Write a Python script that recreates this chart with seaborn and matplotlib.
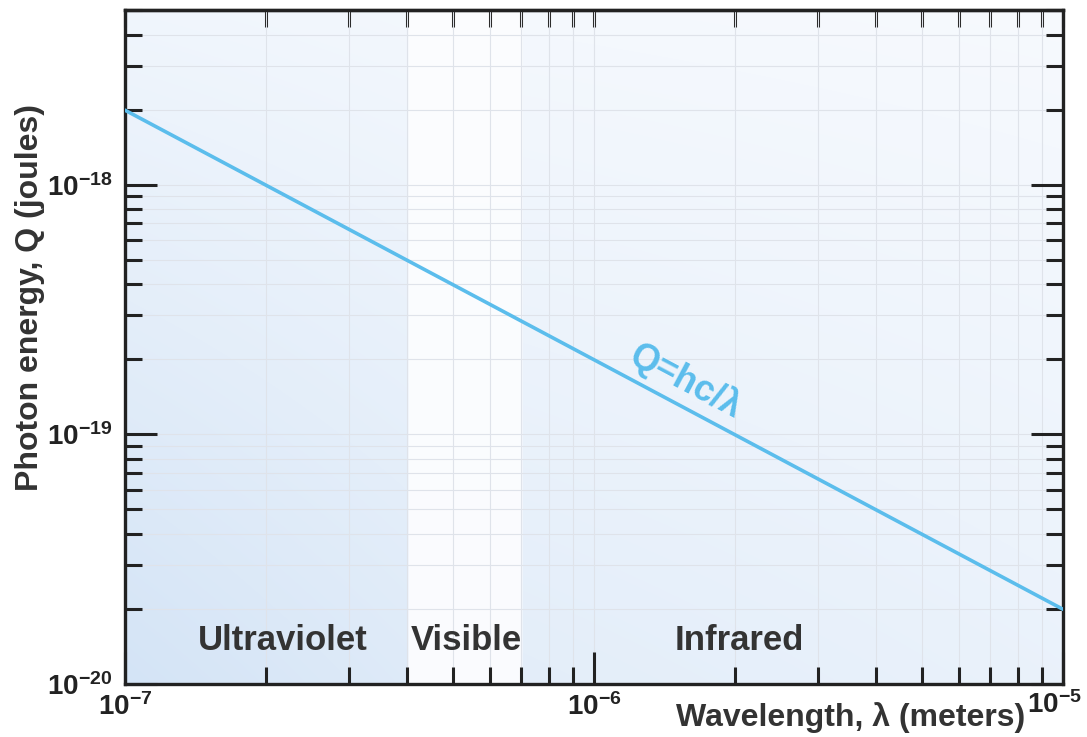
import numpy as np
import pandas as pd
import seaborn as sns
import matplotlib.pyplot as plt
from matplotlib.ticker import LogLocator, FixedLocator, NullFormatter

# values
wavelength_m = [1e-7, 1e-5]
energy_j = [1.99e-18, 1.99e-20]

x_ticks = [1e-7, 1e-6, 1e-5]
x_tick_labels = [r"$10^{-7}$", r"$10^{-6}$", ""]  # 10^-5 is placed by hand
y_ticks = [1e-20, 1e-19, 1e-18]
y_tick_labels = [r"$10^{-20}$", r"$10^{-19}$", r"$10^{-18}$"]

band_names = ["Ultraviolet", "Visible", "Infrared"]
band_edges = [1e-7, 4e-7, 7e-7, 1e-5]
band_tint = [(1.0, 0.75), (0.05, 0.05), (0.62, 0.45)]  # tint strength at left / right of band
band_label_x = [2.17e-7, 5.34e-7, 2.04e-6]
band_label_y = 1.49e-20

formula_text = "Q=hc/\u03bb"
formula_x = 1.57e-6
formula_y = 1.62e-19

sns.set_style("white")
plt.rcParams["font.family"] = ["Liberation Sans", "DejaVu Sans"]
plt.rcParams["font.weight"] = "bold"
plt.rcParams["mathtext.fontset"] = "custom"
plt.rcParams["mathtext.rm"] = "Liberation Sans:bold"
plt.rcParams["mathtext.default"] = "rm"

df = pd.DataFrame({"wavelength": wavelength_m, "energy": energy_j})

fig = plt.figure(figsize=(10.87, 7.37), dpi=100)
ax = fig.add_axes([0.115, 0.072, 0.863, 0.914])

# soft blue backdrop for the spectral bands (bluer towards the bottom)
nx, ny = 600, 300
lo, hi = np.log10(band_edges[0]), np.log10(band_edges[-1])
fx = np.linspace(0, 1, nx)
fy = np.linspace(0, 1, ny)
strength = np.zeros(nx)
for i in range(len(band_names)):
    a = (np.log10(band_edges[i]) - lo) / (hi - lo)
    b = (np.log10(band_edges[i + 1]) - lo) / (hi - lo)
    m = (fx >= a) & (fx <= b)
    t = (fx[m] - a) / (b - a)
    strength[m] = band_tint[i][0] + (band_tint[i][1] - band_tint[i][0]) * t
vert = 0.3 + 0.7 * (1 - fy)
amount = vert[:, None] * strength[None, :]
white = np.array([252, 253, 255]) / 255
deep = np.array([212, 228, 246]) / 255
img = white[None, None, :] - amount[:, :, None] * (white - deep)[None, None, :]
ax.imshow(img, extent=(0, 1, 0, 1), transform=ax.transAxes, origin="lower",
          aspect="auto", zorder=0, interpolation="bilinear")

for i, name in enumerate(band_names):
    ax.text(band_label_x[i], band_label_y, name, ha="center", va="center",
            fontsize=25, fontweight="bold", color="#333333", zorder=3)

sns.lineplot(data=df, x="wavelength", y="energy", ax=ax, color="#5bbdec", lw=2.6, zorder=4)

ax.set_xscale("log")
ax.set_yscale("log")
ax.set_xlim(1e-7, 1e-5)
ax.set_ylim(1e-20, 5e-18)

ax.set_xticks(x_ticks, x_tick_labels)
ax.set_yticks(y_ticks, y_tick_labels)
ax.xaxis.set_minor_locator(LogLocator(base=10, subs=np.arange(2, 10), numticks=20))
ax.yaxis.set_minor_locator(LogLocator(base=10, subs=np.arange(2, 10), numticks=20))
ax.xaxis.set_minor_formatter(NullFormatter())
ax.yaxis.set_minor_formatter(NullFormatter())

ax.grid(True, which="both", color="#dfe3ea", lw=0.8, zorder=1)
ax.set_axisbelow(True)

ax.tick_params(axis="both", which="major", direction="in", length=23, width=2.2,
               labelsize=20, color="#222222", labelcolor="#222222")
ax.tick_params(axis="both", which="minor", direction="in", length=12, width=2.2,
               color="#222222")
ax.tick_params(axis="y", which="both", left=True, right=True, pad=9)
ax.tick_params(axis="x", which="both", bottom=True, top=False, pad=7)

ax.annotate(r"$10^{-5}$", xy=(1, 0), xycoords="axes fraction", xytext=(19, -7),
            textcoords="offset pixels", ha="right", va="top", fontsize=20,
            color="#222222")

# short ticks on the top edge
top = ax.secondary_xaxis("top")
top.xaxis.set_major_locator(FixedLocator(x_ticks))
top.xaxis.set_minor_locator(LogLocator(base=10, subs=np.arange(2, 10), numticks=20))
top.tick_params(axis="x", which="both", direction="in", length=12, width=2.2,
                color="#222222", labeltop=False)
top.xaxis.set_major_formatter(NullFormatter())
top.xaxis.set_minor_formatter(NullFormatter())
top.spines["top"].set_linewidth(2.4)
top.spines["top"].set_color("#222222")

for s in ax.spines.values():
    s.set_linewidth(2.4)
    s.set_color("#222222")

ax.set_xlabel("")
ax.set_ylabel("")
ax.text(0.773, -0.05, "Wavelength, \u03bb (meters)", transform=ax.transAxes,
        ha="center", va="center", fontsize=23, fontweight="bold", color="#333333")
ax.text(-0.101, 0.573, "Photon energy, Q (joules)", transform=ax.transAxes,
        ha="center", va="center", rotation=90, fontsize=23, fontweight="bold",
        color="#333333")

ax.text(formula_x, formula_y, formula_text, ha="center", va="center",
        rotation=-28, rotation_mode="anchor", fontsize=26, fontweight="bold",
        color="#5bbdec", zorder=5)

fig.savefig("out.png", dpi=100)
